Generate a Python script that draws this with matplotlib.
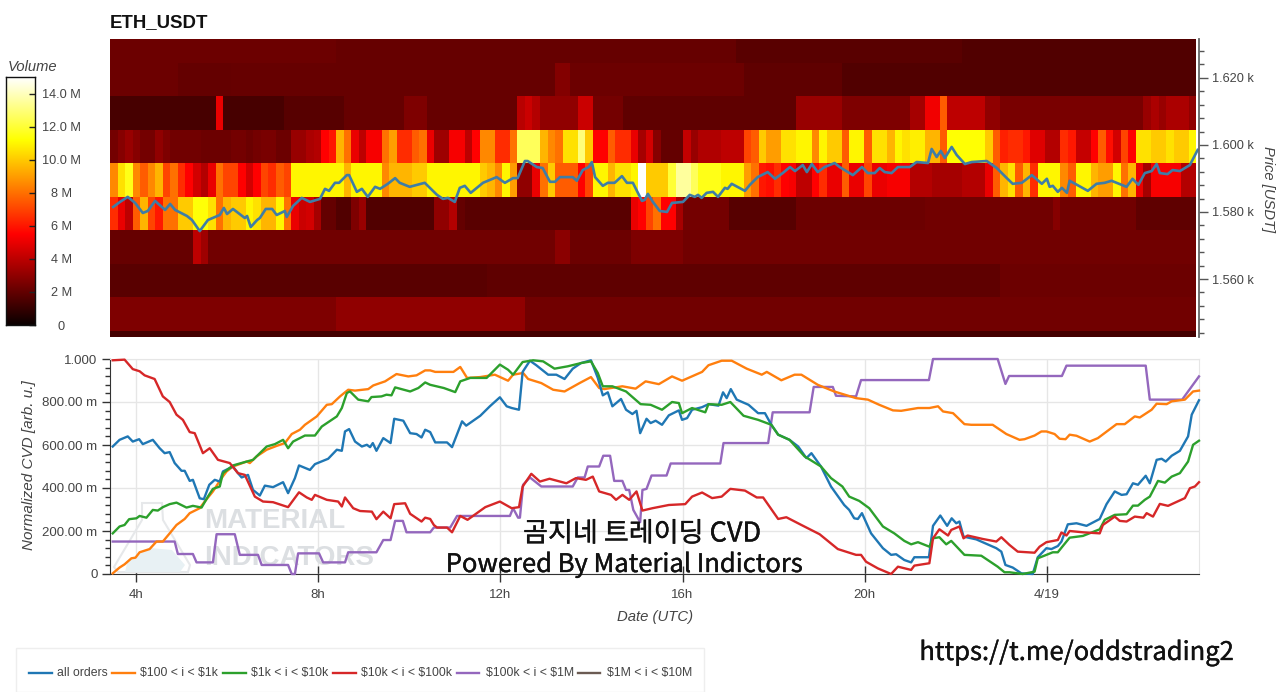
import numpy as np
import matplotlib
matplotlib.use('Agg')
import matplotlib.pyplot as plt
import matplotlib.patheffects as pe
from matplotlib.lines import Line2D
from matplotlib.patches import Polygon, Rectangle
from matplotlib.ticker import FixedLocator, FixedFormatter

W, H = 1280, 692
plt.rcParams['font.family'] = ['Liberation Sans', 'DejaVu Sans']

# heatmap: volume in millions per 10 minute column, top row first
price_edges = [1632, 1624.5, 1614.5, 1604.5, 1594.5, 1584.5, 1574.5, 1564.5, 1554.5, 1544.5, 1542.7]

row_0 = [2.2]*30 + [2.1]*53 + [1.8]*30 + [1.6]*31
row_1 = [2.2]*9 + [2.0]*7 + [2.1]*43 + [2.7]*2 + [2.2]*23 + [1.9]*13 + [1.6]*47
row_2 = ([1.4]*14 + [5] + [1.4]*8 + [1.7]*8 + [2.1]*8 + [2.6]*3 + [2.1]*12 + [3.9, 4.3, 3.8] + [3]*5
         + [4.3]*2 + [2.4]*4 + [1.9]*23 + [3.2]*6 + [2.6]*9 + [3.5]*2 + [5.2]*2 + [7.5] + [4]*5 + [3]*2
         + [2.5]*19 + [3.2, 3.6, 3.2, 3.6, 3.6, 3.6, 3.0])
row_3 = [2.4, 2.8, 3.2, 2.8, 2.4, 2.4, 3, 2.6, 2.3, 2.3, 2.3, 2.3, 2.2, 2.2, 2.2, 2.2, 2.4, 2.4, 2.2, 2.4, 2.5, 2.5, 2.2, 2.2,
         3.2, 3.2, 3.6, 3.8, 5.5, 6, 9.5, 8, 5, 4, 5.3, 5.3,
         8, 9, 6.5, 6.5, 7.5, 8, 5, 3.3, 3.3, 5.3, 5.3, 4, 5.5, 8.5, 8.5, 6.5, 6.5, 8, 12.5, 12.5, 12.5, 9.5, 8.5, 8,
         10.5, 10.5, 13, 10, 5.5, 5.5, 7.5, 6.5, 6.5, 5, 3.5, 4.5,
         2.8, 2, 2, 2, 4.2, 3.2, 3.7, 3.7, 3.7, 4, 4, 4, 7, 7.5, 10, 9, 9, 10.5, 10.5, 11, 11, 8.5, 11, 10, 10, 7.5,
         11, 11, 7.5, 10.5, 10.5, 9.5, 11, 10.5, 10.8, 10.8,
         9.5, 9.5, 7.5, 11.2, 11.2, 11.2, 11.2, 11.2, 10, 7.5, 6.2, 6.5, 6.5, 6, 4.8, 4.8, 3.8, 3.8, 6.5, 6, 4.2, 4.2,
         5.5, 7.5, 5.8, 4.5, 7, 5.5, 10.5, 10.5, 10, 10, 10.5, 10, 10, 11]
row_4 = [8.5, 10.5, 11.5, 8.5, 7.5, 8.5, 9.5, 7, 8, 6.5, 5.5, 4.5, 3.8, 5, 8, 7, 7, 5.5, 4.5, 5.5, 7, 6.5, 7.5, 7,
         11, 11, 11, 11, 11, 11, 11, 9.5, 11, 11, 11, 11,
         8.5, 9.5, 9.5, 9.5, 10, 10, 11, 11, 11, 11, 11, 11, 11, 10, 9.5, 8.5, 11, 9, 3, 3, 5, 8, 10, 7.5, 7.5, 7.5,
         5.5, 7, 11, 11, 9.5, 10.5, 10.5, 11, 15, 10,
         10, 10, 12, 13.5, 13.5, 12.5, 11.5, 11.5, 11.5, 11, 11, 11,
         9, 8, 6, 5.8, 6.5, 5.5, 5.3, 4, 4, 5.5, 6.5, 5, 5, 7.5, 5, 5, 7, 5, 5, 5.3, 5.3, 5.3, 3.8, 3.8,
         3.8, 3.5, 3.5, 3.5, 3.5, 3.8, 3.8, 3.8, 5, 7.5, 9.5, 10.5, 7.5, 9.5, 6.5, 11, 11, 11, 8.5, 7.5, 11, 11,
         9.5, 9, 9, 11, 8, 9.5, 5, 3.5, 5.3, 5.3, 5.3, 5.3, 3.8, 3.8]
row_5 = ([6.5, 5, 4, 7.5, 9.5, 7, 6, 8, 8, 10, 10, 11.3, 11.3, 10.5, 8, 9.5, 10, 10, 11, 10.5, 9.5, 9.5, 11, 8,
          5, 4.3, 4.5, 3.5, 2, 2, 1.6, 1.6, 2.6, 3.2, 1.6, 1.6]
         + [1.6]*7 + [3, 3, 3.8, 2] + [1.8]*22 + [5, 5.5, 7, 8, 5.5, 5.5, 3.5]
         + [2.4]*6 + [1.7]*9 + [2.2]*17 + [2.3]*17 + [2.8] + [2.3]*10 + [1.9]*8)
row_6 = [2.1]*11 + [4, 3.3] + [2.3]*46 + [2.9]*2 + [2.2]*8 + [2.6]*7 + [2.3]*68
row_7 = [1.8]*50 + [1.9]*68 + [2.2]*26
row_8 = [2.6]*30 + [3.0]*25 + [2.3]*89
row_9 = [1.3]*144
volume_rows = [row_0, row_1, row_2, row_3, row_4, row_5, row_6, row_7, row_8, row_9]

# price line
price_h = [3.50, 3.65, 3.82, 3.98, 4.15, 4.26, 4.42, 4.64, 4.75, 4.86, 5.12, 5.23, 5.40, 5.58, 5.84, 5.93, 6.00, 6.13, 6.39, 6.44,
           6.52, 6.66, 6.72, 6.85, 6.99, 7.09, 7.27, 7.31, 7.45, 7.64, 7.82, 8.04, 8.15, 8.24, 8.37, 8.46, 8.63, 8.68, 8.85, 8.96,
           9.09, 9.25, 9.36, 9.53, 9.69, 9.79, 10.01, 10.34, 10.61, 10.74, 10.85, 11.00, 11.11, 11.22, 11.35, 11.62, 11.92, 12.10,
           12.28, 12.38, 12.54, 12.60, 12.80, 12.93, 13.09, 13.20, 13.31, 13.59, 13.68, 13.81, 13.94, 14.01, 14.08, 14.25, 14.36,
           14.51, 14.67, 14.78, 14.91, 15.11, 15.17, 15.24, 15.35, 15.50, 15.66, 15.77, 16.01, 16.16, 16.27, 16.34, 16.42, 16.53,
           16.67, 16.78, 16.93, 16.99, 17.08, 17.37, 17.48, 17.65, 17.87, 18.03, 18.20, 18.36, 18.47, 18.64, 18.73, 18.84, 18.97,
           19.12, 19.34, 19.45, 19.56, 19.74, 19.94, 20.07, 20.22, 20.33, 20.44, 20.59, 20.73, 20.99, 21.14, 21.39, 21.47, 21.58,
           21.67, 21.76, 21.91, 22.02, 22.20, 22.35, 22.68, 22.90, 23.12, 23.25, 23.45, 23.67, 23.89, 24.00, 24.06, 24.13, 24.24,
           24.33, 24.44, 24.50, 24.90, 25.09, 25.27, 25.42, 25.75, 25.88, 26.01, 26.15, 26.30, 26.41, 26.48, 26.65, 26.76, 26.92,
           27.14, 27.31]
price_v = [1581.5, 1583, 1584.5, 1582.7, 1579.7, 1580.3, 1583.3, 1580.6, 1582.4, 1580.6, 1578.8, 1577.6, 1574.3, 1577.6, 1579.1,
           1581.2, 1579.4, 1580.9, 1578.2, 1578.8, 1575.5, 1577.6, 1578.2, 1580.9, 1580.9, 1579.1, 1580.3, 1578.5, 1581.8, 1584.2,
           1583, 1583.9, 1586.9, 1586.3, 1588.7, 1588.7, 1591, 1591, 1586, 1586.9, 1584.5, 1587.5, 1586.9, 1588.4, 1590.1,
           1588.7, 1587.5, 1588.7, 1585.1, 1583.9, 1584.2, 1583, 1587.2, 1587.8, 1585.7, 1588.7, 1590.4, 1588.7, 1590.1, 1590.1,
           1595.2, 1595.2, 1593.4, 1593.1, 1589, 1589, 1590.4, 1590.4, 1589.3, 1592.5, 1593.4, 1594.9, 1590.4, 1587.8, 1588.7,
           1588.7, 1590.7, 1588.7, 1588.7, 1583.3, 1583.6, 1585.4, 1583, 1580.3, 1580, 1582.7, 1583, 1585.1, 1584.5, 1585.1,
           1584.2, 1585.7, 1586, 1584.5, 1587.2, 1586.9, 1588.4, 1586.3, 1588.1, 1590.4, 1591.9, 1589.9, 1591.6, 1593.4, 1592.2,
           1594, 1591.9, 1594.3, 1591.9, 1593.4, 1594.6, 1593.4, 1592.5, 1591, 1593.4, 1591.6, 1591.6, 1593.1, 1591.9, 1591.6,
           1593.4, 1593.4, 1594.9, 1594.6, 1598.8, 1596.4, 1598.2, 1596.1, 1599.4, 1597, 1594.3, 1594.9, 1595.2, 1593.1, 1590.1,
           1588.4, 1588.7, 1591, 1588.4, 1589.9, 1587.5, 1587.8, 1586, 1587.2, 1585.7, 1589.3, 1586.3, 1588.4, 1588.7, 1589.3,
           1587.5, 1589.9, 1588.1, 1591.6, 1592.2, 1594.3, 1591.6, 1591.3, 1592.5, 1592.2, 1594, 1598.5]

# normalized CVD series
all_h = [3.49, 3.64, 3.82, 3.93, 4.07, 4.15, 4.37, 4.52, 4.63, 4.74, 4.85, 5.00, 5.07, 5.18, 5.25, 5.40, 5.49, 5.61, 5.73, 5.84,
         5.91, 6.13, 6.24, 6.32, 6.46, 6.57, 6.72, 6.83, 7.01, 7.23, 7.34, 7.49, 7.58, 7.82, 7.93, 8.22, 8.41, 8.52, 8.59, 8.68,
         8.81, 8.96, 9.07, 9.14, 9.20, 9.28, 9.43, 9.59, 9.67, 9.87, 10.02, 10.16, 10.27, 10.35, 10.46, 10.57, 10.83, 10.94, 11.16,
         11.25, 11.56, 11.77, 11.99, 12.14, 12.25, 12.41, 12.49, 12.65, 12.79, 13.05, 13.23, 13.41, 13.59, 13.77, 13.99, 14.14,
         14.25, 14.36, 14.46, 14.65, 14.76, 14.90, 14.99, 15.07, 15.21, 15.30, 15.41, 15.55, 15.70, 15.92, 15.99, 16.10, 16.21,
         16.43, 16.57, 16.79, 16.89, 16.97, 17.06, 17.19, 17.45, 17.66, 17.81, 17.95, 18.10, 18.35, 18.54, 18.72, 18.83, 19.04,
         19.26, 19.55, 19.66, 19.77, 19.85, 19.94, 20.14, 20.40, 20.58, 20.69, 20.87, 21.02, 21.09, 21.41, 21.50, 21.66, 21.81,
         21.91, 22.01, 22.08, 22.17, 22.45, 22.89, 23.00, 23.09, 23.25, 23.44, 23.69, 23.80, 23.99, 24.10, 24.24, 24.32, 24.46,
         24.65, 24.87, 25.16, 25.31, 25.49, 25.64, 25.75, 25.89, 26.00, 26.17, 26.26, 26.41, 26.52, 26.61, 26.74, 26.92, 27.10,
         27.18, 27.34]
all_v = [.593, .624, .640, .616, .627, .604, .624, .585, .562, .567, .516, .480, .480, .433, .438, .352, .348, .415, .438, .430,
         .477, .500, .469, .449, .461, .391, .365, .411, .404, .427, .376, .446, .505, .484, .511, .536, .578, .573, .663, .674,
         .616, .593, .601, .590, .609, .573, .632, .609, .722, .713, .655, .651, .635, .671, .660, .612, .612, .590, .710,
         .690, .736, .780, .822, .780, .772, .764, .940, .992, .971, .927, .927, .907, .955, .981, .994, .912,
         .831, .845, .780, .814, .764, .744, .759, .655, .722, .702, .713, .694, .738, .761, .717, .725, .764,
         .776, .790, .783, .845, .818, .860, .811, .787, .748, .748, .694, .648, .624, .593, .539, .562, .500,
         .407, .321, .298, .259, .256, .283, .189, .120, .089, .092, .065, .054, .078, .078, .224, .272, .224,
         .259, .236, .244, .174, .161, .120, .104, .042, .030, .003, 0, .078, .120, .116, .130, .151, .231,
         .236, .224, .256, .325, .384, .368, .371, .422, .415, .457, .422, .531, .536, .523, .550, .573, .640,
         .741, .808]

o_h = [3.49, 3.64, 3.75, 3.90, 3.99, 4.08, 4.30, 4.45, 4.59, 4.74, 4.89, 5.07, 5.18, 5.40, 5.51, 5.69, 5.88, 5.99, 6.13, 6.43,
       6.50, 6.65, 6.87, 7.09, 7.27, 7.42, 7.60, 7.71, 7.97, 8.19, 8.30, 8.48, 8.66, 8.81, 9.10, 9.21, 9.47, 9.72, 9.98, 10.16,
       10.35, 10.46, 10.57, 10.97, 11.12, 11.27, 11.56, 11.88, 12.17, 12.28, 12.50, 12.61, 12.90, 13.16, 13.41, 13.74, 13.99,
       14.17, 14.28, 14.68, 14.97, 15.19, 15.48, 15.77, 15.99, 16.43, 16.57, 16.86, 17.08, 17.41, 17.74, 17.85, 18.17, 18.46,
       18.61, 18.97, 19.33, 19.81, 20.07, 20.32, 20.62, 20.80, 21.17, 21.42, 21.61, 21.72, 21.94, 22.19, 22.34, 22.81, 23.11,
       23.40, 23.51, 23.73, 23.88, 23.99, 24.17, 24.28, 24.41, 24.50, 24.65, 24.94, 25.12, 25.53, 25.71, 25.93, 26.04, 26.30,
       26.41, 26.63, 26.74, 27.03, 27.21, 27.34]
o_v = [.003, .030, .045, .073, .076, .101, .116, .151, .151, .189, .228, .256, .283, .306, .337, .384, .446, .477, .500, .523,
       .516, .547, .578, .596, .609, .651, .671, .694, .733, .787, .790, .826, .857, .853, .860, .877, .896, .930, .919, .924,
       .947, .947, .940, .940, .963, .912, .916, .927, .899, .927, .935, .907, .888, .857, .849, .888, .916,
       .865, .860, .873, .862, .896, .883, .919, .899, .940, .971, .992, .992, .955, .927, .940, .901, .927,
       .927, .880, .849, .818, .811, .787, .761, .759, .772, .772, .780, .756, .748, .697, .694, .694, .651,
       .624, .627, .644, .663, .663, .651, .629, .627, .648, .643, .616, .632, .697, .697, .733, .728, .764,
       .792, .790, .803, .811, .849, .853]

g_h = [3.49, 3.64, 3.75, 3.85, 4.01, 4.08, 4.23, 4.37, 4.48, 4.59, 4.74, 4.89, 5.11, 5.25, 5.44, 5.58, 5.69, 5.84, 5.91, 6.13,
       6.43, 6.57, 6.87, 7.05, 7.23, 7.34, 7.45, 7.71, 7.93, 8.08, 8.41, 8.52, 8.63, 8.70, 8.88, 9.10, 9.17, 9.39, 9.50, 9.61,
       9.69, 10.02, 10.20, 10.35, 10.46, 10.76, 11.01, 11.12, 11.34, 11.70, 11.99, 12.17, 12.28, 12.49, 12.72, 12.94, 13.19,
       13.48, 13.77, 13.99, 14.14, 14.25, 14.46, 14.76, 15.08, 15.30, 15.55, 15.77, 15.92, 15.99, 16.21, 16.50, 16.57, 16.86,
       17.05, 17.34, 17.66, 17.95, 18.10, 18.35, 18.68, 19.04, 19.26, 19.51, 19.66, 19.88, 20.10, 20.40, 20.65, 20.87, 21.02,
       21.17, 21.42, 21.50, 21.64, 21.79, 21.90, 22.19, 22.56, 22.92, 23.07, 23.18, 23.47, 23.73, 23.80, 23.99, 24.13, 24.24,
       24.35, 24.50, 24.79, 25.16, 25.27, 25.49, 25.75, 25.89, 26.00, 26.15, 26.26, 26.44, 26.59, 26.74, 26.92, 27.10, 27.21,
       27.34]
g_v = [.189, .221, .228, .255, .259, .270, .262, .298, .295, .311, .325, .332, .309, .317, .309, .360, .396, .407, .469, .505,
       .523, .531, .593, .604, .624, .585, .616, .644, .644, .686, .733, .772, .842, .849, .811, .803, .823, .826, .834, .831,
       .868, .849, .865, .891, .880, .865, .846, .896, .912, .912, .974, .950, .927, .986, .994, .989, .955,
       .966, .981, .989, .935, .873, .873, .849, .790, .787, .764, .800, .795, .748, .772, .752, .790, .787,
       .800, .736, .717, .694, .648, .624, .547, .500, .446, .407, .360, .340, .306, .221, .189, .154, .138,
       .148, .127, .166, .171, .138, .154, .089, .085, .034, .008, .008, 0, .011, .073, .089, .101, .101,
       .130, .169, .177, .208, .252, .275, .278, .318, .318, .345, .360, .433, .425, .453, .469, .523, .601,
       .620]

r_h = [3.49, 3.75, 3.93, 4.08, 4.19, 4.41, 4.59, 4.74, 4.89, 5.03, 5.18, 5.29, 5.47, 5.62, 5.80, 6.06, 6.24, 6.39, 6.61, 6.79,
       7.01, 7.34, 7.42, 7.58, 7.75, 7.86, 7.93, 8.19, 8.44, 8.52, 8.59, 8.77, 8.92, 9.18, 9.28, 9.43, 9.59, 9.67, 9.91, 10.02,
       10.27, 10.35, 10.46, 10.54, 10.61, 10.83, 10.94, 11.12, 11.28, 11.67, 11.99, 12.25, 12.41, 12.49, 12.68, 12.87, 13.08,
       13.45, 13.66, 13.88, 14.03, 14.17, 14.43, 14.54, 14.68, 14.83, 14.99, 15.12, 15.34, 15.70, 16.06, 16.21, 16.43, 16.65,
       16.86, 17.05, 17.37, 17.63, 17.77, 18.10, 18.28, 18.61, 19.01, 19.41, 19.81, 19.92, 20.03, 20.29, 20.58, 20.73, 21.02,
       21.09, 21.42, 21.50, 21.64, 21.83, 21.90, 22.08, 22.17, 22.26, 22.59, 22.89, 23.00, 23.18, 23.36, 23.73, 23.84, 23.99,
       24.24, 24.32, 24.43, 24.50, 24.79, 25.16, 25.23, 25.49, 25.60, 25.75, 25.93, 26.12, 26.19, 26.33, 26.48, 26.66, 27.03,
       27.14, 27.25, 27.34]
r_v = [.994, .997, .953, .943, .924, .907, .826, .800, .741, .717, .660, .655, .562, .585, .531, .516, .469, .461, .360, .337,
       .334, .311, .334, .380, .356, .345, .368, .345, .337, .314, .356, .306, .293, .290, .255, .290, .259, .325, .329, .280,
       .244, .262, .256, .228, .216, .216, .194, .270, .252, .311, .337, .306, .311, .407, .466, .430, .443,
       .422, .446, .438, .453, .384, .368, .345, .368, .345, .384, .295, .306, .321, .325, .360, .379, .353,
       .360, .396, .388, .356, .356, .256, .264, .228, .185, .116, .089, .089, .057, .026, 0, .034, .019,
       .039, .050, .166, .208, .179, .205, .221, .166, .179, .163, .151, .171, .135, .104, .099, .127, .148,
       .158, .193, .179, .200, .194, .189, .228, .267, .247, .244, .267, .262, .283, .267, .326, .317, .353,
       .399, .407, .427]

p_h = [3.49, 4.85, 4.92, 5.25, 5.33, 5.69, 5.77, 6.17, 6.28, 6.68, 6.76, 7.34, 7.42, 7.49, 7.56, 8.02, 8.11, 8.59, 8.66, 9.28,
       9.43, 9.59, 9.69, 9.86, 9.94, 10.46, 10.54, 10.90, 11.05, 12.21, 12.28, 12.39, 12.43, 12.50, 12.65, 12.90, 13.59, 13.70,
       13.85, 13.92, 14.17, 14.26, 14.41, 14.50, 14.68, 14.76, 14.83, 14.92, 15.07, 15.12, 15.21, 15.32, 15.65, 15.74, 16.83,
       16.90, 17.88, 17.98, 18.79, 18.88, 19.30, 19.37, 19.81, 19.92, 21.41, 21.50, 22.92, 23.09, 23.17, 24.33, 24.43, 26.17,
       26.26, 26.97, 27.34]
p_v = [.151, .151, .093, .093, .054, .054, .185, .185, .089, .089, .042, .042, 0, 0, .096, .096, .054, .054, .101, .101,
       .158, .158, .247, .247, .194, .194, .216, .216, .270, .270, .306, .262, .262, .415, .449, .407, .407, .449,
       .449, .500, .500, .550, .550, .433, .433, .391, .391, .298, .241, .391, .396, .458, .458, .514, .514,
       .609, .609, .752, .752, .870, .870, .829, .826, .902, .902, 1.0, 1.0, .884, .921, .921, .969, .969,
       .811, .811, .919]

legend_labels = ['all orders', '$100 < i < $1k', '$1k < i < $10k', '$10k < i < $100k', '$100k < i < $1M', '$1M < i < $10M']
legend_colors = ['#1f77b4', '#ff7f0e', '#2ca02c', '#d62728', '#9467bd', '#6b5b53']

volume_ticks = [0, 2, 4, 6, 8, 10, 12, 14]
volume_labels = ['0', '2 M', '4 M', '6 M', '8 M', '10.0 M', '12.0 M', '14.0 M']
price_ticks = [1560, 1580, 1600, 1620]
price_labels = ['1.560 k', '1.580 k', '1.600 k', '1.620 k']
hour_ticks = [4, 8, 12, 16, 20, 24]
hour_labels = ['4h', '8h', '12h', '16h', '20h', '4/19']
cvd_ticks = [0, .2, .4, .6, .8, 1]
cvd_labels = ['0', '200.00 m', '400.00 m', '600.00 m', '800.00 m', '1.000']

TXT = '#444444'


def px_axes(x0, y0, x1, y1):
    return fig.add_axes([x0 / W, 1 - y1 / H, (x1 - x0) / W, (y1 - y0) / H])


def fx(x):
    return x / W


def fy(y):
    return 1 - y / H


fig = plt.figure(figsize=(W / 100, H / 100), dpi=100, facecolor='white')
x_range = (3.43, 27.34)

# top panel
ax = px_axes(110, 39, 1199, 337)
time_edges = np.linspace(3.43, 27.28, len(row_0) + 1)
ax.pcolormesh(time_edges, price_edges, np.array(volume_rows), cmap='hot', vmin=0, vmax=15, shading='flat')
ax.plot(price_h, price_v, color='#3f7da6', lw=1.9, solid_joinstyle='round')
ax.set_xlim(*x_range)
ax.set_ylim(1542.7, 1631.6)
for s in ['top', 'left', 'bottom']:
    ax.spines[s].set_visible(False)
ax.spines['right'].set_color('#666666')
ax.spines['right'].set_linewidth(1.3)
ax.set_xticks([])
ax.yaxis.tick_right()
ax.yaxis.set_major_locator(FixedLocator(price_ticks))
ax.yaxis.set_major_formatter(FixedFormatter(price_labels))
ax.yaxis.set_minor_locator(FixedLocator(np.arange(1544, 1632, 4)))
ax.tick_params(axis='y', which='major', length=6.5, width=1, color='#555555', labelcolor=TXT, labelsize=9.2, pad=3)
ax.tick_params(axis='y', which='minor', length=3.5, width=1, color='#555555')
fig.text(fx(110), fy(23), 'ETH_USDT', fontsize=13.4, fontweight='bold', color='#111111', va='center', ha='left')
fig.text(fx(1268), fy(189), 'Price [USDT]', fontsize=10.6, style='italic', color=TXT, rotation=-90, va='center', ha='center')

# colorbar
cax = px_axes(6, 77, 35, 325)
gradient = np.linspace(15, 0, 256).reshape(-1, 1)
cax.imshow(gradient, aspect='auto', cmap='hot', vmin=0, vmax=15, extent=[0, 1, 0, 15])
cax.set_xticks([])
cax.yaxis.set_major_locator(FixedLocator(volume_ticks))
cax.yaxis.set_major_formatter(FixedFormatter(volume_labels))
cax.yaxis.tick_right()
cax.tick_params(axis='y', direction='in', length=4, width=1, color='#222222', labelsize=9.2, labelcolor=TXT, pad=19)
for lab in cax.get_yticklabels():
    lab.set_horizontalalignment('center')
for s in cax.spines.values():
    s.set_color('#111111')
    s.set_linewidth(1)
fig.text(fx(8), fy(67), 'Volume', fontsize=10.6, style='italic', color=TXT, va='center', ha='left')

# bottom panel
bx = px_axes(110, 359, 1199, 574)
bx.set_xlim(*x_range)
bx.set_ylim(0, 1)
bx.grid(True, color='#e6e6e6', lw=1)
bx.set_axisbelow(True)
bx.plot(p_h, p_v, color=legend_colors[4], lw=1.7, clip_on=False, zorder=3)
bx.plot(o_h, o_v, color=legend_colors[1], lw=1.7, clip_on=False, zorder=4)
bx.plot(g_h, g_v, color=legend_colors[2], lw=1.7, clip_on=False, zorder=6)
bx.plot(all_h, all_v, color=legend_colors[0], lw=1.7, clip_on=False, zorder=5)
bx.plot(r_h, r_v, color=legend_colors[3], lw=1.7, clip_on=False, zorder=7)
bx.spines['top'].set_color('#e6e6e6')
bx.spines['right'].set_color('#e6e6e6')
bx.spines['left'].set_color('#333333')
bx.spines['bottom'].set_color('#333333')
bx.xaxis.set_major_locator(FixedLocator(hour_ticks))
bx.xaxis.set_major_formatter(FixedFormatter(hour_labels))
bx.yaxis.set_major_locator(FixedLocator(cvd_ticks))
bx.yaxis.set_major_formatter(FixedFormatter(cvd_labels))
bx.yaxis.set_minor_locator(FixedLocator(np.arange(0, 1.0, .04)))
bx.tick_params(axis='x', direction='inout', length=11, width=1, color='#333333', labelcolor=TXT, labelsize=9.5, pad=5)
bx.tick_params(axis='y', which='major', length=6, width=1, color='#333333', labelcolor=TXT, labelsize=9.5, pad=3)
bx.tick_params(axis='y', which='minor', length=3.5, width=1, color='#333333')
fig.text(fx(29), fy(465), 'Normalized CVD [arb. u.]', fontsize=11, style='italic', color=TXT, rotation=90, va='center', ha='center')
fig.text(fx(655), fy(617), 'Date (UTC)', fontsize=10.7, style='italic', color=TXT, va='center', ha='center')

# watermark, behind the lines
tr = fig.transFigure
flask = [(142, 503), (162, 503), (163, 520), (190, 565), (188, 572), (118, 572), (114, 567), (142, 520)]
bx.add_patch(Polygon([(fx(a), fy(b)) for a, b in flask], closed=True, fill=False, ec='#e6e8ea', lw=1.5, transform=tr, zorder=1))
blob = [(125, 572), (128, 560), (150, 548), (172, 550), (185, 565), (180, 572)]
bx.add_patch(Polygon([(fx(a), fy(b)) for a, b in blob], closed=True, fc='#e8f1f4', ec='none', transform=tr, zorder=1))
bx.text(fx(204), fy(521), 'MATERIAL', fontsize=20, fontweight='bold', color='#dcdfe2', transform=tr, va='center', ha='left', zorder=1)
bx.text(fx(204), fy(558), 'INDICATORS', fontsize=20, fontweight='bold', color='#dcdfe2', transform=tr, va='center', ha='left', zorder=1)

# overlaid captions
kr = ['Noto Sans CJK KR', 'DejaVu Sans']
heavier = [pe.withStroke(linewidth=0.25, foreground='#111111')]
t1 = fig.text(fx(642), fy(534), '곰지네 트레이딩 CVD', fontsize=19.5, family=kr, color='#111111', va='center', ha='center', zorder=10)
t2 = fig.text(fx(625), fy(565), 'Powered By Material Indictors', fontsize=18.4, family=kr, color='#111111', va='center', ha='center', zorder=10)
t3 = fig.text(fx(1077), fy(653), 'https://t.me/oddstrading2', fontsize=18.4, family=kr, color='#111111', va='center', ha='center', zorder=10)
for t in [t1, t2, t3]:
    t.set_path_effects(heavier)

# legend box, cut by the lower edge like the source
fig.add_artist(Rectangle((fx(16), fy(692)), (704 - 16) / W, (692 - 648) / H, transform=tr, fc='white', ec='#eeeeee', lw=1))
line_x = [(29, 52), (112, 135), (223, 246), (333, 356), (457, 479), (578, 600)]
text_x = [57, 140, 251, 361, 486, 607]
for (a, b), tx, lab, col in zip(line_x, text_x, legend_labels, legend_colors):
    fig.add_artist(Line2D([fx(a), fx(b)], [fy(673), fy(673)], color=col, lw=1.7, transform=tr))
    fig.text(fx(tx), fy(673), lab.replace('$', r'\$'), fontsize=8.8, color=TXT, va='center', ha='left')

fig.savefig('out.png', dpi=100)
